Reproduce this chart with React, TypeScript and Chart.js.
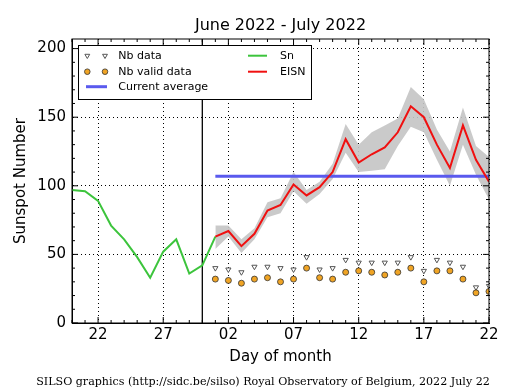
import React, { useEffect, useRef } from 'react';
import { Chart, registerables } from 'chart.js';

Chart.register(...registerables);

// Day index 0 = 2022-06-20 ... 32 = 2022-07-22
const dayIndex = [0, 1, 2, 3, 4, 5, 6, 7, 8, 9, 10, 11, 12, 13, 14, 15, 16, 17, 18, 19, 20, 21, 22, 23, 24, 25, 26, 27, 28, 29, 30, 31, 32];
const snDays = [0, 1, 2, 3, 4, 5, 6, 7, 8, 9, 10, 11];
const snValues = [97, 96, 89, 71, 61, 48, 33, 52, 61, 36, 42, 63];

const julyDays = [11, 12, 13, 14, 15, 16, 17, 18, 19, 20, 21, 22, 23, 24, 25, 26, 27, 28, 29, 30, 31, 32];
const eisnValues = [63, 67, 56, 65, 82, 86, 101, 93, 99, 110, 134, 117, 123, 128, 139, 158, 150, 130, 113, 144, 119, 103];
const eisnUpper = [71, 71, 61, 69, 88, 91, 110, 97, 103, 116, 145, 130, 139, 144, 149, 172, 163, 141, 125, 157, 129, 121];
const eisnLower = [54, 63, 51, 61, 77, 80, 96, 87, 94, 105, 124, 110, 111, 112, 129, 143, 139, 119, 100, 130, 108, 90];
const nbData = [40, 39, 37, 41, 41, 40, 39, 48, 39, 40, 46, 44, 44, 44, 44, 48, 38, 46, 44, 41, 26, 27];
const nbValidData = [32, 31, 29, 32, 33, 30, 32, 40, 33, 32, 37, 38, 37, 35, 37, 40, 30, 38, 38, 32, 22, 23];
const currentAverage = 107;
const monthBoundary = 10;

const xTickPositions = [2, 7, 12, 17, 22, 27, 32];
const xTickLabels = ['22', '27', '02', '07', '12', '17', '22'];
const yTickValues = [0, 50, 100, 150, 200];
const yMinorStep = 10;

const titleText = 'June 2022 - July 2022';
const xTitle = 'Day of month';
const yTitle = 'Sunspot Number';
const footerText = 'SILSO graphics (http://sidc.be/silso) Royal Observatory of Belgium, 2022 July 22';

const GREEN = '#3cc43c';
const RED = '#f01010';
const BLUE = '#5a5aee';
const BAND = 'rgba(196,196,196,0.9)';
const ORANGE = '#f0a424';
const FONT = '"DejaVu Sans", sans-serif';

const pts = (xs: number[], ys: number[]) => xs.map((x, i) => ({ x, y: ys[i] }));

function drawTri(ctx: CanvasRenderingContext2D, x: number, y: number, r: number) {
  ctx.beginPath();
  ctx.moveTo(x - r * 0.866, y - r * 0.5);
  ctx.lineTo(x + r * 0.866, y - r * 0.5);
  ctx.lineTo(x, y + r);
  ctx.closePath();
  ctx.fillStyle = '#fff';
  ctx.fill();
  ctx.strokeStyle = '#555';
  ctx.lineWidth = 1;
  ctx.stroke();
}
function drawDot(ctx: CanvasRenderingContext2D, x: number, y: number, r: number) {
  ctx.beginPath();
  ctx.arc(x, y, r, 0, Math.PI * 2);
  ctx.fillStyle = ORANGE;
  ctx.fill();
  ctx.strokeStyle = '#333';
  ctx.lineWidth = 0.8;
  ctx.stroke();
}

const framePlugin = {
  id: 'frame',
  beforeDatasetsDraw(chart: any) {
    const { ctx, chartArea: a, scales } = chart;
    const x = scales.x.getPixelForValue(monthBoundary);
    ctx.save();
    ctx.strokeStyle = '#000';
    ctx.lineWidth = 1.3;
    ctx.beginPath();
    ctx.moveTo(x, a.top);
    ctx.lineTo(x, a.bottom);
    ctx.stroke();
    ctx.restore();
  },
  afterDraw(chart: any) {
    const { ctx, chartArea: a, scales } = chart;
    const xs = scales.x;
    const ys = scales.y;
    ctx.save();
    ctx.strokeStyle = '#000';
    ctx.lineWidth = 1;
    ctx.strokeRect(a.left, a.top, a.right - a.left, a.bottom - a.top);
    ctx.beginPath();
    for (const d of dayIndex) {
      const px = xs.getPixelForValue(d);
      const len = xTickPositions.includes(d) ? 6 : 3;
      ctx.moveTo(px, a.bottom);
      ctx.lineTo(px, a.bottom - len);
      ctx.moveTo(px, a.top);
      ctx.lineTo(px, a.top + len);
    }
    for (let v = yTickValues[0]; v <= yTickValues[yTickValues.length - 1]; v += yMinorStep) {
      const py = ys.getPixelForValue(v);
      const len = yTickValues.includes(v) ? 6 : 3;
      ctx.moveTo(a.left, py);
      ctx.lineTo(a.left + len, py);
      ctx.moveTo(a.right, py);
      ctx.lineTo(a.right - len, py);
    }
    ctx.stroke();

    // legend
    const bx = 78.5, by = 45.5, bw = 233, bh = 54;
    ctx.fillStyle = '#fff';
    ctx.fillRect(bx, by, bw, bh);
    ctx.strokeStyle = '#000';
    ctx.lineWidth = 1;
    ctx.strokeRect(bx, by, bw, bh);
    const r1 = 55.7, r2 = 71.7, r3 = 86.7;
    drawTri(ctx, 87.3, r1, 2.8);
    drawTri(ctx, 105, r1, 2.8);
    drawDot(ctx, 87.3, r2, 2.8);
    drawDot(ctx, 105, r2, 2.8);
    ctx.lineWidth = 3;
    ctx.strokeStyle = BLUE;
    ctx.beginPath();
    ctx.moveTo(86, r3);
    ctx.lineTo(107, r3);
    ctx.stroke();
    ctx.lineWidth = 2;
    ctx.strokeStyle = GREEN;
    ctx.beginPath();
    ctx.moveTo(248, r1);
    ctx.lineTo(267, r1);
    ctx.stroke();
    ctx.strokeStyle = RED;
    ctx.beginPath();
    ctx.moveTo(248, r2);
    ctx.lineTo(267, r2);
    ctx.stroke();
    ctx.fillStyle = '#000';
    ctx.font = '11px ' + FONT;
    ctx.textBaseline = 'middle';
    ctx.textAlign = 'left';
    ctx.fillText('Nb data', 118.3, r1);
    ctx.fillText('Nb valid data', 118.3, r2);
    ctx.fillText('Current average', 118.3, r3);
    ctx.fillText('Sn', 280, r1);
    ctx.fillText('EISN', 280, r2);

    // footer
    ctx.font = '11.1px "DejaVu Serif", serif';
    ctx.textAlign = 'center';
    ctx.fillText(footerText, 263, 382);
    ctx.restore();
  },
};

export default function App() {
  const ref = useRef<HTMLCanvasElement>(null);
  useEffect(() => {
    if (!ref.current) return;
    const chart = new Chart(ref.current, {
      type: 'line',
      data: {
        datasets: [
          {
            label: 'Nb valid data',
            data: pts(julyDays, nbValidData),
            showLine: false,
            pointStyle: 'circle',
            pointRadius: 3,
            pointBackgroundColor: ORANGE,
            pointBorderColor: '#333',
            pointBorderWidth: 0.8,
          },
          {
            label: 'Nb data',
            data: pts(julyDays, nbData),
            showLine: false,
            pointStyle: 'triangle',
            pointRotation: 180,
            pointRadius: 3,
            pointBackgroundColor: '#fff',
            pointBorderColor: '#555',
            pointBorderWidth: 1,
          },
          {
            label: 'EISN',
            data: pts(julyDays, eisnValues),
            borderColor: RED,
            borderWidth: 2,
            pointRadius: 0,
            fill: false,
          },
          {
            label: 'Sn',
            data: pts(snDays, snValues),
            borderColor: GREEN,
            borderWidth: 2,
            pointRadius: 0,
            fill: false,
          },
          {
            label: 'Current average',
            data: pts([julyDays[0], julyDays[julyDays.length - 1]], [currentAverage, currentAverage]),
            borderColor: BLUE,
            borderWidth: 3,
            pointRadius: 0,
            fill: false,
          },
          {
            label: 'upper',
            data: pts(julyDays, eisnUpper),
            borderWidth: 0,
            borderColor: 'rgba(0,0,0,0)',
            backgroundColor: BAND,
            pointRadius: 0,
            fill: 6,
          },
          {
            label: 'lower',
            data: pts(julyDays, eisnLower),
            borderWidth: 0,
            borderColor: 'rgba(0,0,0,0)',
            pointRadius: 0,
            fill: false,
          },
        ],
      },
      options: {
        responsive: false,
        animation: false,
        events: [],
        layout: { padding: { left: 0, right: 26, top: 0, bottom: 0 } },
        plugins: {
          legend: { display: false },
          tooltip: { enabled: false },
          filler: { drawTime: 'beforeDatasetsDraw' },
          title: {
            display: true,
            text: titleText,
            fullSize: false,
            color: '#000',
            font: { family: FONT, size: 16, weight: 'normal', lineHeight: 1.125 },
            padding: { top: 17, bottom: 4 },
          },
        },
        scales: {
          x: {
            type: 'linear',
            min: 0,
            max: 32,
            z: 1,
            afterBuildTicks: (s: any) => {
              s.ticks = xTickPositions.map((v) => ({ value: v }));
            },
            afterFit: (s: any) => {
              s.height = 67;
            },
            ticks: {
              autoSkip: false,
              maxRotation: 0,
              padding: 3,
              color: '#000',
              font: { family: FONT, size: 15 },
              callback: (v: any) => xTickLabels[xTickPositions.indexOf(v)],
            },
            grid: { drawTicks: false, color: '#000', lineWidth: 1, tickLength: 0 },
            border: { display: true, color: '#000', dash: [1, 3] },
            title: {
              display: true,
              text: xTitle,
              color: '#000',
              font: { family: FONT, size: 15 },
              padding: { top: 0, bottom: 24 },
            },
          },
          y: {
            min: 0,
            max: 207,
            z: 1,
            afterBuildTicks: (s: any) => {
              s.ticks = yTickValues.map((v) => ({ value: v }));
            },
            afterFit: (s: any) => {
              s.width = 72;
            },
            ticks: {
              padding: 6,
              color: '#000',
              font: { family: FONT, size: 15 },
            },
            grid: { drawTicks: false, color: '#000', lineWidth: 1, tickLength: 0 },
            border: { display: true, color: '#000', dash: [1, 3] },
            title: {
              display: true,
              text: yTitle,
              color: '#000',
              font: { family: FONT, size: 15 },
              padding: { top: 12, bottom: 0 },
            },
          },
        },
      },
      plugins: [framePlugin],
    } as any);
    return () => chart.destroy();
  }, []);
  return (
    <div style={{ position: 'fixed', left: 0, top: 0, width: 515, height: 390, background: '#fff' }}>
      <canvas ref={ref} width={515} height={390} style={{ display: 'block' }} />
    </div>
  );
}
